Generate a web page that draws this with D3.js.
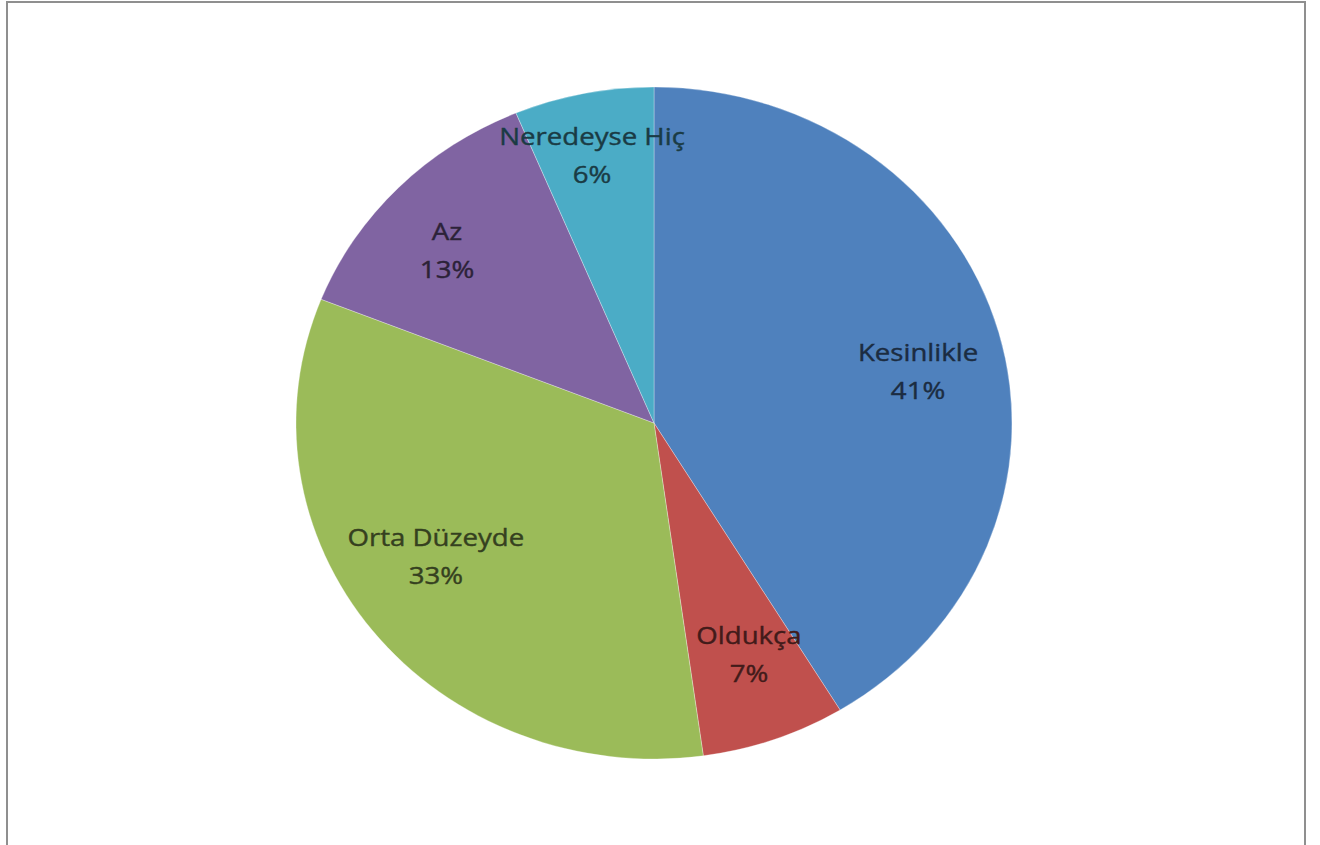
<!DOCTYPE html>
<html>
<head>
  <meta charset="utf-8">
  <script src="https://d3js.org/d3.v7.min.js"></script>
  <style>
    body { margin:0; background:#fff; }
    text { font-family: "Open Sans", sans-serif; }
  </style>
</head>
<body>
<script>
  const width = 1320;
  const height = 845;

  // chart data
  const categories = ["Kesinlikle", "Oldukça", "Orta Düzeyde", "Az", "Neredeyse Hiç"];
  const values = [41.3, 6.5, 33.2, 12.7, 6.3];
  const colours = ["#4F81BD", "#C0504D", "#9BBB59", "#8064A2", "#4BACC6"];

  // label placement, as fraction of the radius (x and y)
  const labelKx = [0.766, 0.79, 0.775, 0.81, 0.88];
  const labelKy = [0.56, 0.733, 0.645, 0.73, 0.81];

  const cx = 654, cy = 423;
  const rx = 358, ry = 336;

  const svg = d3.select("body").append("svg")
    .attr("width", width)
    .attr("height", height);

  // chart frame
  svg.append("rect")
    .attr("x", 7)
    .attr("y", 2)
    .attr("width", 1298)
    .attr("height", 900)
    .attr("fill", "none")
    .attr("stroke", "#8f8f8f")
    .attr("stroke-width", 2);

  const data = categories.map((c, i) => ({ name: c, value: values[i], colour: colours[i], kx: labelKx[i], ky: labelKy[i] }));

  const pie = d3.pie().sort(null).value(d => d.value);
  const arcs = pie(data);

  const arc = d3.arc().innerRadius(0).outerRadius(ry);

  const g = svg.append("g")
    .attr("transform", `translate(${cx},${cy}) scale(${rx / ry},1)`);

  g.selectAll("path")
    .data(arcs)
    .enter()
    .append("path")
    .attr("d", arc)
    .attr("fill", d => d.data.colour)
    .attr("stroke", "rgba(255,255,255,0.3)")
    .attr("stroke-width", 1)
    .attr("vector-effect", "non-scaling-stroke");

  const total = d3.sum(values);

  const labels = svg.append("g").selectAll("text")
    .data(arcs)
    .enter()
    .append("text")
    .attr("text-anchor", "middle")
    .attr("font-size", 24)
    .attr("fill", d => d3.color(d.data.colour).darker(3))
    .attr("stroke", d => d3.color(d.data.colour).darker(3))
    .attr("stroke-width", 0.4)
    .attr("transform", d => {
      const a = (d.startAngle + d.endAngle) / 2;
      const x = cx + rx * d.data.kx * Math.sin(a);
      const y = cy - ry * d.data.ky * Math.cos(a);
      return `translate(${x},${y}) scale(1.15,1)`;
    });

  labels.append("tspan")
    .attr("x", 0)
    .attr("dy", -11)
    .text(d => d.data.name);

  labels.append("tspan")
    .attr("x", 0)
    .attr("dy", 38)
    .text(d => Math.round(d.data.value / total * 100) + "%");
</script>
</body>
</html>
